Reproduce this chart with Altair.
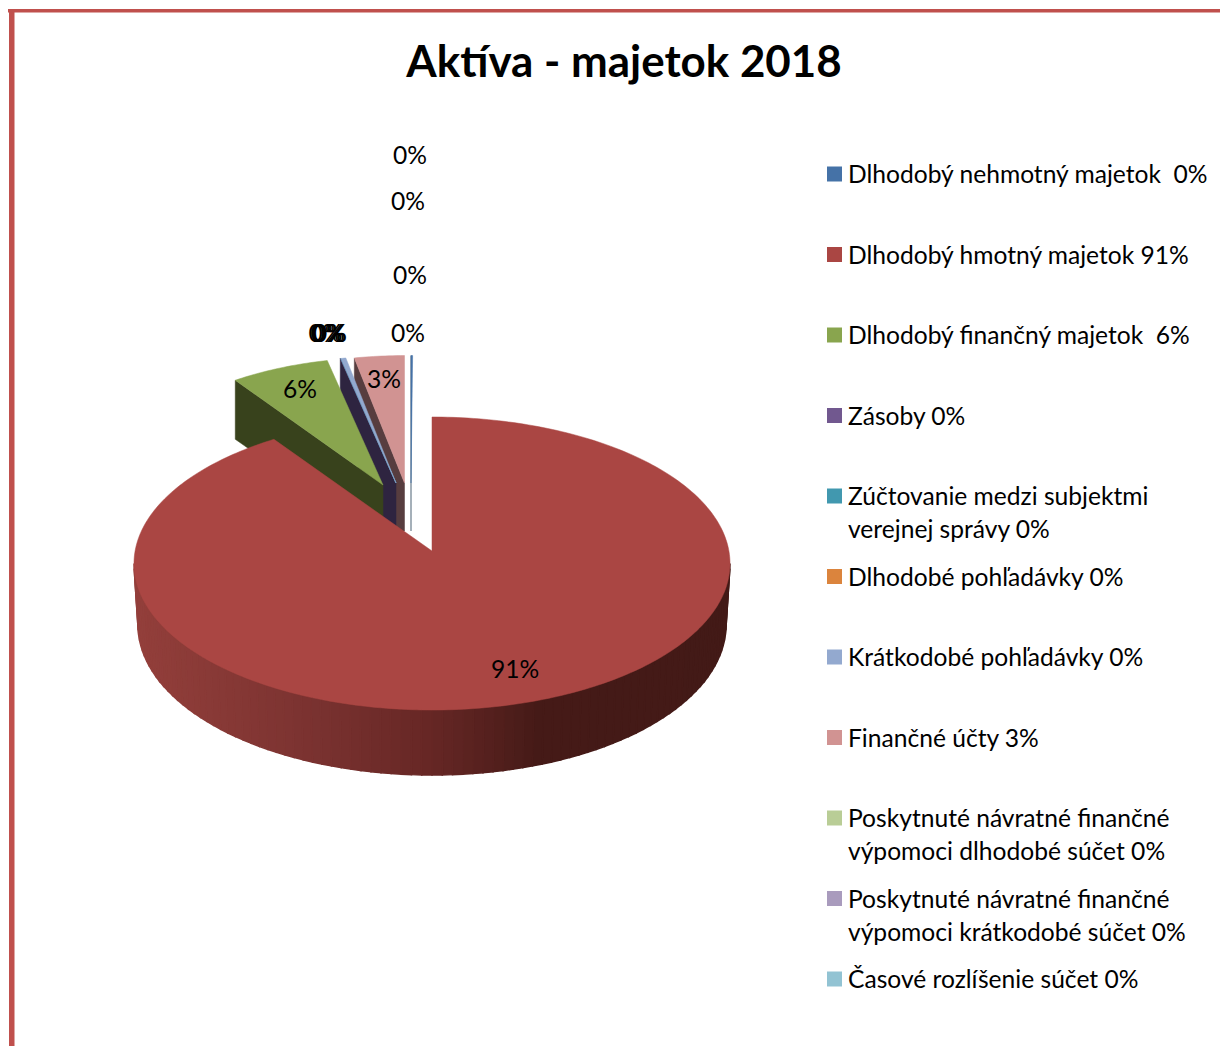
import math
import altair as alt

# ---------- data ----------
LEGEND_LINES = [
    ["Dlhodobý nehmotný majetok\u00a0 0%"],
    ["Dlhodobý hmotný majetok 91%"],
    ["Dlhodobý finančný majetok\u00a0 6%"],
    ["Zásoby 0%"],
    ["Zúčtovanie medzi subjektmi", "verejnej správy 0%"],
    ["Dlhodobé pohľadávky 0%"],
    ["Krátkodobé pohľadávky 0%"],
    ["Finančné účty 3%"],
    ["Poskytnuté návratné finančné", "výpomoci dlhodobé súčet 0%"],
    ["Poskytnuté návratné finančné", "výpomoci krátkodobé súčet 0%"],
    ["Časové rozlíšenie súčet 0%"],
]
SHARES = [0.1, 91.1, 6.2, 0.03, 0.02, 0.0, 0.3, 3.1, 0.0, 0.0, 0.0]
COLORS = ["#4572a7", "#aa4643", "#89a54e", "#71588f", "#4198af", "#db843d",
          "#93a9cf", "#d19392", "#b9cd96", "#a99bbd", "#92c3d3"]
DARK = {0: "#33485f", 2: "#38421c", 3: "#2e2440", 7: "#573d3f"}
LABELS = ["0%", "0%", "0%", "0%", "0%", "0%", "0%", "0%", "6%", "3%", "91%"]
TITLE = "Aktíva - majetok 2018"
CLIPPED = "Výbrané ukazovatele zo súvahy"

# ---------- layout (page pixels) ----------
OFF = 8
W, H = 1212, 1038
LABEL_X = [410, 408, 410, 408, 325.5, 327.5, 329, 330, 300, 384, 515]
LABEL_Y = [157, 203, 277, 335, 335, 335, 335, 335, 391, 381, 671]
CX, CY, RX, RY = 432, 563.5, 298, 146.5
BCY, BRX, BRY = 625, 294, 150
APEX_RED = (432, 551)
APEX = {0: (411, 483), 2: (383, 485), 3: (396, 483), 4: (396, 483), 5: (396, 483), 6: (396, 483), 7: (404.5, 483)}
BACK_K = 0.87
DEPTH_OUT, DEPTH_IN, FOOT = 59, 48, 14
LEG_Y0, LEG_STEP, LINE_H = 176, 80.5, 33
FONT = "Lato"
LEG_SIZE = 24.6
SHADE_X = [135, 300, 432, 540, 730]
SHADE_C = ["#933f3b", "#7c3331", "#662725", "#451a17", "#431a17"]


def shade(x):
    for k in range(len(SHADE_X) - 1):
        if x <= SHADE_X[k + 1]:
            f = max(0.0, (x - SHADE_X[k]) / (SHADE_X[k + 1] - SHADE_X[k]))
            a, b = SHADE_C[k], SHADE_C[k + 1]
            ch = [round(int(a[j:j + 2], 16) * (1 - f) + int(b[j:j + 2], 16) * f) for j in (1, 3, 5)]
            return "#%02x%02x%02x" % tuple(ch)
    return SHADE_C[-1]


def pt(x, y):
    return [x - OFF, y - OFF]


def arc(ax, ay, rx, ry, a0, a1, n=None):
    n = n or max(2, int(abs(a1 - a0)) + 2)
    out = []
    for i in range(n + 1):
        t = math.radians(a0 + (a1 - a0) * i / n)
        out.append((ax + rx * math.sin(t), ay - ry * math.cos(t)))
    return out


def feature(points, sw=0.5, **props):
    ring = [pt(*p) for p in points]
    ring.append(ring[0])
    props["sw"] = sw
    return {"type": "Feature", "properties": props,
            "geometry": {"type": "Polygon", "coordinates": [ring]}}


def wall(i, edge0):
    ax, ay = APEX[i]
    px, py = edge0
    foot = ax - FOOT if i != 0 else ax
    return feature([(px, py), (px, py + DEPTH_OUT), (foot, ay + DEPTH_IN), (ax, ay + DEPTH_IN), (ax, ay)], c=DARK[i])


# slice angles
deg = [s * 3.6 for s in SHARES]
red_a0, red_a1 = 0.0, deg[1]
spans = {0: (360.0, 360.0 + deg[0])}
end = 360.0
for i in [7, 6, 5, 4, 3, 2]:
    spans[i] = (end - deg[i], end)
    end -= deg[i]

shapes = []
for i in [7, 0, 6, 5, 4, 3]:
    a0, a1 = spans[i]
    if deg[i] == 0:
        continue
    ax, ay = APEX[i]
    edge = arc(ax, ay, RX * BACK_K, RY * BACK_K, a0, a1)
    if i in DARK:
        shapes.append(wall(i, edge[0]))
    if i in (7, 0):
        shapes.append(feature([(ax, ay)] + edge, c=COLORS[i]))
# small slices: tops go above the navy side wall
for i in [3, 4, 6]:
    a0, a1 = spans[i]
    ax, ay = APEX[i]
    shapes.append(feature([(ax, ay)] + arc(ax, ay, RX * BACK_K, RY * BACK_K, a0, a1), c=COLORS[i]))
# green stays on top of the small slices' walls
a0, a1 = spans[2]
ax, ay = APEX[2]
ge = arc(ax, ay, RX * BACK_K, RY * BACK_K, a0, a1)
shapes.append(wall(2, ge[0]))
shapes.append(feature([(ax, ay)] + ge, c=COLORS[2]))

# red slice: outer wall then top
STEPS = 90
for k in range(STEPS):
    t0 = 90 + 180 * k / STEPS
    t1 = 90 + 180 * (k + 1) / STEPS
    top = arc(CX, CY, RX, RY, t0, t1, 1)
    bot = arc(CX, BCY, BRX, BRY, t0, t1, 1)
    shapes.append(feature([top[0], top[1], bot[1], bot[0]], sw=1.5, c=shade((top[0][0] + top[1][0]) / 2)))
shapes.append(feature([APEX_RED] + arc(CX, CY, RX, RY, red_a0, red_a1, 330), c=COLORS[1]))

px_x = alt.Scale(domain=[0, W], range=[0, W])
px_y = alt.Scale(domain=[0, H], range=[0, H])
X = lambda f: alt.X(f, scale=px_x, axis=None)
Y = lambda f: alt.Y(f, scale=px_y, axis=None)

pie_layer = alt.Chart(alt.Data(values=shapes)).mark_geoshape().encode(
    color=alt.Color("properties.c:N", scale=None),
    stroke=alt.Stroke("properties.c:N", scale=None),
    strokeWidth=alt.StrokeWidth("properties.sw:Q", scale=None),
).project(type="identity", scale=1, translate=[0, 0])

label_rows = [{"x": x - OFF, "y": y - OFF, "t": t} for x, y, t in zip(LABEL_X, LABEL_Y, LABELS)]
label_layer = alt.Chart(alt.Data(values=label_rows)).mark_text(
    font=FONT, fontSize=LEG_SIZE, color="#000000", baseline="middle", align="center"
).encode(x=X("x:Q"), y=Y("y:Q"), text="t:N")

swatches, legend_text = [], []
for i, lines in enumerate(LEGEND_LINES):
    yc = LEG_Y0 + LEG_STEP * i
    swatches.append({"x": 834.5 - OFF, "y": yc - 2 - OFF, "c": COLORS[i]})
    for j, line in enumerate(lines):
        legend_text.append({"x": 848 - OFF, "y": yc + j * LINE_H - OFF, "t": line})

swatch_layer = alt.Chart(alt.Data(values=swatches)).mark_square(size=225, opacity=1, strokeWidth=0).encode(
    x=X("x:Q"), y=Y("y:Q"), color=alt.Color("c:N", scale=None)
)
legend_layer = alt.Chart(alt.Data(values=legend_text)).mark_text(
    font=FONT, fontSize=LEG_SIZE, color="#000000", baseline="middle", align="left"
).encode(x=X("x:Q"), y=Y("y:Q"), text="t:N")

title_layer = alt.Chart(alt.Data(values=[{"x": 624 - OFF, "y": 64 - OFF, "t": TITLE}])).mark_text(
    font=FONT, fontSize=43.9, fontWeight="bold", color="#000000", baseline="middle", align="center"
).encode(x=X("x:Q"), y=Y("y:Q"), text="t:N")

clipped_layer = alt.Chart(alt.Data(values=[{"x": 12 - OFF, "t": CLIPPED}])).mark_text(
    font="Liberation Serif", fontSize=32, fontWeight="bold", fontStyle="italic", color="#000000",
    baseline="alphabetic", align="left"
).encode(x=X("x:Q"), y=alt.value(-7), text="t:N")

border = [{"x": 0, "x2": W, "y": 9 - OFF, "y2": 12.5 - OFF},
          {"x": 9 - OFF, "x2": 14.5 - OFF, "y": 9 - OFF, "y2": H}]
border_layer = alt.Chart(alt.Data(values=border)).mark_rect(color="#c0504d").encode(
    x=X("x:Q"), x2="x2:Q", y=Y("y:Q"), y2="y2:Q"
)

chart = alt.layer(
    clipped_layer, border_layer, pie_layer,
    label_layer, swatch_layer, legend_layer, title_layer,
).properties(
    width=W, height=H, padding=0,
    autosize=alt.AutoSizeParams(type="none", contains="padding"),
    background="#ffffff",
).configure_view(stroke=None)

chart.save("out.html", embed_options={"renderer": "svg", "actions": False})
